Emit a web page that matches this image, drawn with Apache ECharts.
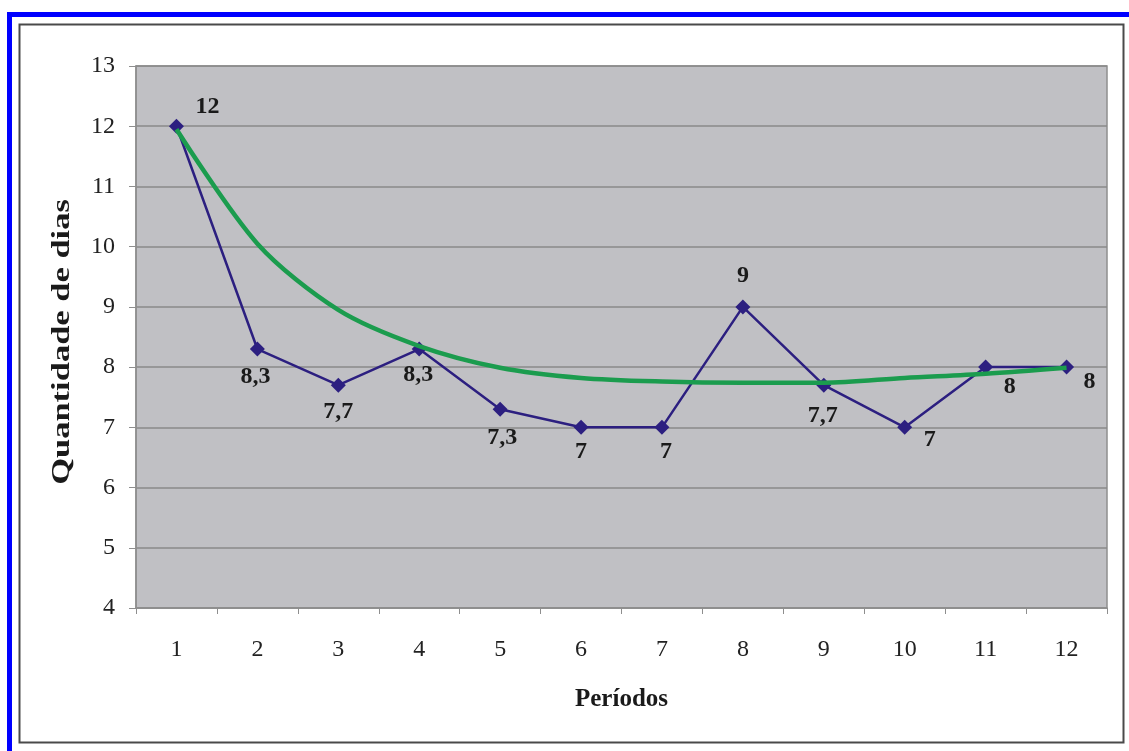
<!DOCTYPE html>
<html>
<head>
<meta charset="utf-8">
<script src="https://cdn.jsdelivr.net/npm/echarts@6/dist/echarts.min.js"></script>
<style>
  html, body { margin: 0; padding: 0; background: #ffffff; }
  #chart { width: 1129px; height: 751px; }
</style>
</head>
<body>
<div id="chart"></div>
<script>
// Períodos (x categories) and observed number of days per period
const periods = ['1', '2', '3', '4', '5', '6', '7', '8', '9', '10', '11', '12'];
const days = [12, 8.3, 7.7, 8.3, 7.3, 7, 7, 9, 7.7, 7, 8, 8];
// Trend curve values per period
const trend = [11.95, 10.05, 8.95, 8.35, 7.99, 7.82, 7.76, 7.74, 7.74, 7.82, 7.89, 7.99];
// Y axis range and step
const yMin = 4, yMax = 13, yStep = 1;
const yTitle = 'Quantidade de dias';
const xTitle = 'Períodos';

// Label placement around each marker (pixel offsets from the marker centre)
const labelOffsets = [
  [31, -19], [-2, 28], [0, 27], [-1, 26], [2, 29], [0, 24],
  [4, 24], [0, -31], [-1, 31], [25, 12], [24, 20], [23, 15]
];

const serif = 'Liberation Serif';
const chart = echarts.init(document.getElementById('chart'), null, { renderer: 'canvas' });

const dayPoints = days.map((v, i) => ({
  value: v,
  label: { offset: labelOffsets[i] }
}));

chart.setOption({
  animation: false,
  backgroundColor: '#ffffff',
  graphic: [
    // outer blue frame (top and left edges)
    { type: 'rect', shape: { x: 7, y: 12, width: 1122, height: 5 }, style: { fill: '#0000ff' }, z: 10 },
    { type: 'rect', shape: { x: 7, y: 12, width: 5, height: 739 }, style: { fill: '#0000ff' }, z: 10 },
    // chart area border
    { type: 'rect', shape: { x: 19.5, y: 24.5, width: 1104, height: 718 },
      style: { fill: 'none', stroke: '#4a4a4a', lineWidth: 2 }, z: 10 },
    // vertical axis title, drawn tall and narrow
    { type: 'text', x: 63, y: 342, rotation: Math.PI / 2, scaleX: 1.38, scaleY: 1,
      style: { text: yTitle, font: 'bold 25px "Liberation Serif"', fill: '#1a1a1a',
               align: 'center', verticalAlign: 'middle' }, z: 10 }
  ],
  grid: {
    left: 136, right: 22, top: 66, bottom: 143,
    show: true, backgroundColor: '#c0c0c4', borderColor: '#8e8e8e', borderWidth: 1.5
  },
  xAxis: {
    type: 'category',
    data: periods,
    boundaryGap: true,
    name: xTitle,
    nameLocation: 'middle',
    nameGap: 79,
    nameTextStyle: { fontFamily: serif, fontWeight: 'bold', fontSize: 25, color: '#1a1a1a' },
    axisLine: { lineStyle: { color: '#8e8e8e', width: 1.5 } },
    axisTick: { show: true, length: 6, inside: false, lineStyle: { color: '#8e8e8e' } },
    axisLabel: { fontFamily: serif, fontSize: 24, color: '#222222', margin: 30 },
    splitLine: { show: false }
  },
  yAxis: {
    type: 'value',
    min: yMin, max: yMax, interval: yStep,
    axisLine: { show: true, lineStyle: { color: '#8e8e8e', width: 1.5 } },
    axisTick: { show: true, length: 7, lineStyle: { color: '#8e8e8e' } },
    axisLabel: { fontFamily: serif, fontSize: 24, color: '#222222', margin: 21 },
    splitLine: { show: true, lineStyle: { color: '#8a8a8a', width: 1.5 } }
  },
  series: [
    {
      name: yTitle,
      type: 'line',
      data: dayPoints,
      symbol: 'diamond',
      symbolSize: 15,
      z: 2,
      lineStyle: { color: '#2c1f80', width: 2.5 },
      itemStyle: { color: '#2c1f80' },
      label: {
        show: true,
        position: 'inside',
        align: 'center',
        verticalAlign: 'middle',
        fontFamily: serif,
        fontWeight: 'bold',
        fontSize: 24,
        color: '#1a1a1a',
        formatter: p => String(p.value).replace('.', ',')
      }
    },
    {
      name: 'Tendência',
      type: 'line',
      data: trend,
      smooth: 0.3,
      showSymbol: false,
      symbol: 'none',
      z: 3,
      lineStyle: { color: '#1b9c4e', width: 4.5 },
      itemStyle: { color: '#1b9c4e' }
    }
  ]
});
</script>
</body>
</html>
